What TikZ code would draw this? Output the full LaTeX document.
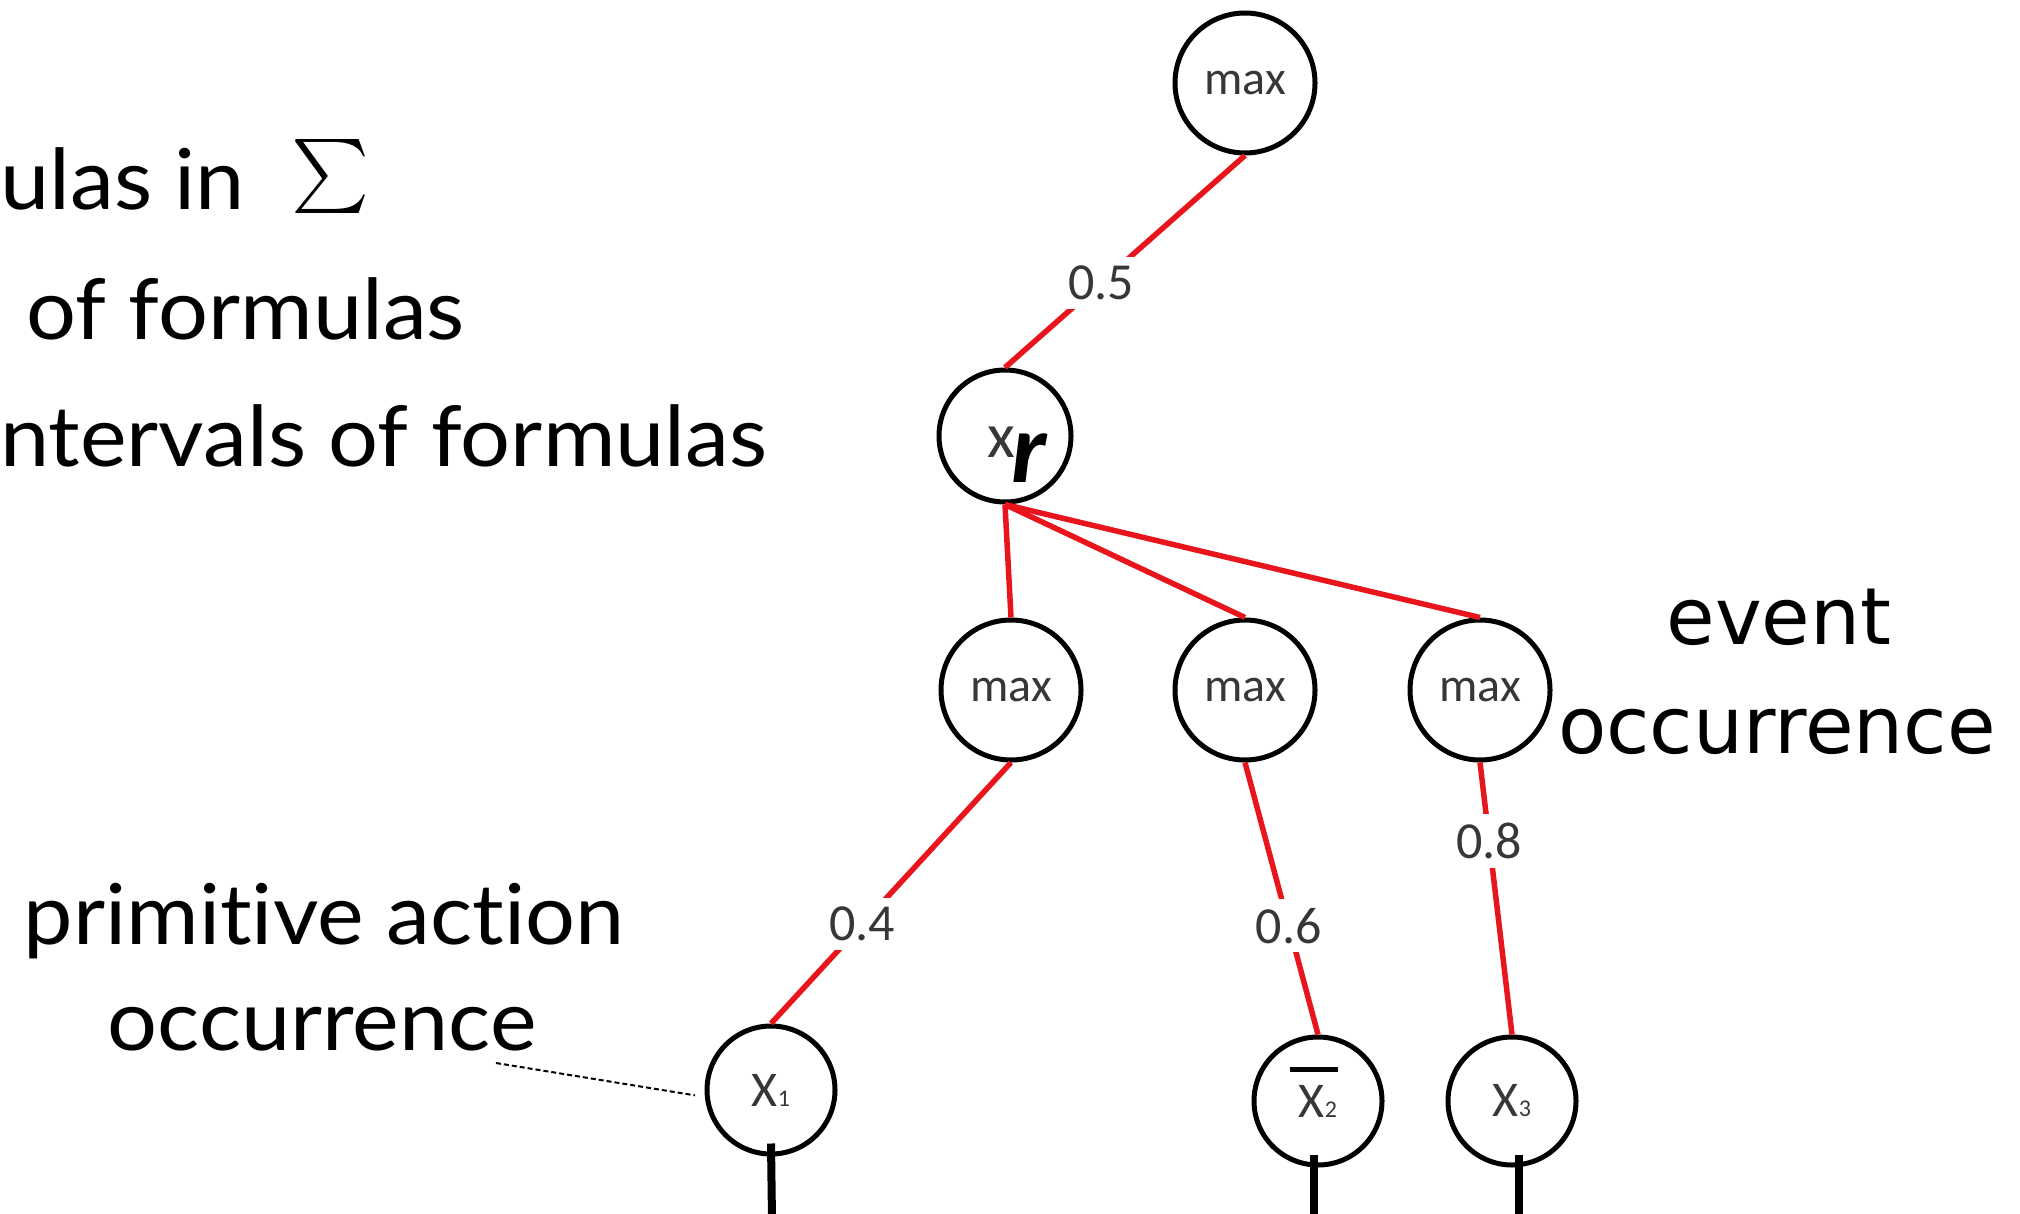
\documentclass[tikz,border=0pt]{standalone}
\usepackage{graphicx}
\usepackage{fontspec}
\setmainfont{Carlito}
\newfontfamily\gillfont[Ligatures=NoCommon, FakeStretch=1.05]{Lato}
\newfontfamily\lucfont{DejaVu Sans}
\definecolor{edgered}{RGB}{232,22,28}
\definecolor{labgray}{RGB}{55,55,55}

\begin{document}
\begin{tikzpicture}[x=1pt,y=-1pt,
  vert/.style={draw=black, circle, line width=5pt, inner sep=0pt,
    minimum size=#1, text=labgray, font=\fontsize{48}{52}\selectfont},
  vert/.default=136,
  leaf/.style={vert=#1, font=\fontsize{50}{54}\selectfont},
  wire/.style={draw=edgered, line width=5.5pt},
  wlab/.style={fill=white, inner sep=9pt, text=labgray,
    font=\fontsize{52}{56}\selectfont},
  tail/.style={line width=8pt},
  dotline/.style={line width=2pt, dash pattern=on 5pt off 3pt},
  gill/.style={font=\gillfont\fontsize{84}{94}\selectfont, inner sep=0pt},
  luc/.style={font=\lucfont\fontsize{79}{86}\selectfont, inner sep=0pt, anchor=base},
]
\useasboundingbox (0,0) rectangle (2020,1214);

% text on the left
\node[gill, anchor=base west] (t1) at (0,210)
  {ulas in\hspace{46pt}\raisebox{-13pt}{\scalebox{7.4}{$\textstyle\sum$}}};
\node[gill, anchor=base west] (t2) at (26,339) {of formulas};
\node[gill, anchor=base west] (t3) at (0,466) {ntervals of formulas};
\node[gill, anchor=base] (p1) at (324,944) {primitive action};
\node[gill, anchor=base] (p2) at (322,1050) {occurrence};

% text on the right
\node[luc] (e1) at (1779,644) {event};
\node[luc] (e2) at (1777,753) {occurrence};

% tree nodes
\node[vert=140] (top) at (1245,83) {max};
\node[vert=132] (xr) at (1005,436)
  {\hspace*{24pt}\raisebox{-21pt}[0pt][0pt]{\fontsize{64}{64}\selectfont x\kern-3pt\raisebox{-25pt}{\color{black}\fontsize{100}{100}\selectfont\bfseries\itshape r}}};
\node[vert=140] (m1) at (1011,690) {max};
\node[vert=140] (m2) at (1245,690) {max};
\node[vert=140] (m3) at (1480,690) {max};
\node[leaf=128] (x1) at (771,1090) {X{\fontsize{24}{24}\selectfont 1}};
\node[leaf=128] (x2) at (1318,1101) {X{\fontsize{24}{24}\selectfont 2}};
\node[leaf=128] (x3) at (1512,1101) {X{\fontsize{24}{24}\selectfont 3}};

% negation bar over X2
\draw[line width=5pt] ([xshift=-28pt,yshift=32pt]x2.center) -- ([xshift=20pt,yshift=32pt]x2.center);

% weighted red edges
\draw[wire] (top.south) -- node[wlab, pos=0.60] {0.5} (xr.north);
\draw[wire] (xr.south) -- (m1.north);
\draw[wire] (xr.south) -- (m2.north);
\draw[wire] (xr.south) -- (m3.north);
\draw[wire] (m1.south) -- node[wlab, pos=0.62] {0.4} (x1.north);
\draw[wire] (m2.south) -- node[wlab, pos=0.60] {0.6} (x2.north);
\draw[wire] (m3.south) -- node[wlab, pos=0.29] {0.8} (x3.north);

% stems below the leaves
\coordinate (s1) at (772,1220);
\coordinate (s2) at (1314,1220);
\coordinate (s3) at (1519,1220);
\draw[tail] ([yshift=13pt]x1.south) -- (s1);
\draw[tail] ([xshift=-4pt,yshift=13pt]x2.south) -- (s2);
\draw[tail] ([xshift=7pt,yshift=13pt]x3.south) -- (s3);

% pointer from the caption to the leaf
\coordinate (lead) at (496,1063);
\draw[dotline, shorten >=10pt] (lead) -- (x1.186);
\end{tikzpicture}
\end{document}
